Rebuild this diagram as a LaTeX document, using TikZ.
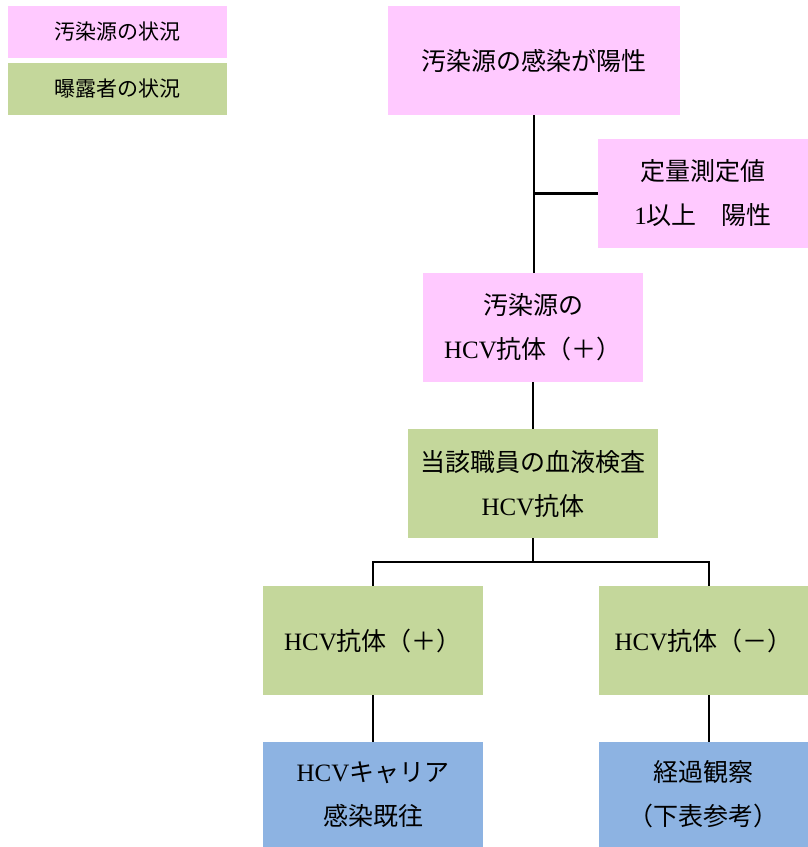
\documentclass[tikz,border=0pt]{standalone}
\usepackage{fontspec}
\setmainfont{Noto Sans CJK JP}
\newfontfamily\lat{Liberation Serif}
\newcommand\hcv{{\lat HCV}}
\definecolor{srcpink}{HTML}{FFC9FF}
\definecolor{expgreen}{HTML}{C4D79B}
\definecolor{resblue}{HTML}{8DB3E2}
\tikzset{
  box/.style={rectangle, inner sep=0pt, align=center, font=\fontsize{25}{44}\selectfont},
  legend/.style={rectangle, inner sep=0pt, align=center, minimum width=219pt, minimum height=52pt, font=\fontsize{21}{22}\selectfont},
  link/.style={draw=black, line width=2.2pt}
}
\begin{document}
\begin{tikzpicture}[x=1pt,y=-1pt]
\useasboundingbox (0,0) rectangle (808,847);
% legend
\node[legend, fill=srcpink] (lg1) at (117.5,32) {汚染源の状況};
\node[legend, fill=expgreen] (lg2) at (117.5,89) {曝露者の状況};
% source boxes
\node[box, fill=srcpink, minimum width=292pt, minimum height=109pt] (top) at (534,60.5) {汚染源の感染が陽性};
\node[box, fill=srcpink, minimum width=210pt, minimum height=109pt] (teiryo) at (703,193.5) {定量測定値\\{\lat 1}以上　陽性};
\node[box, fill=srcpink, minimum width=220pt, minimum height=109pt] (src) at (533,327.5) {汚染源の\\\hcv 抗体（＋）};
% exposed person
\node[box, fill=expgreen, minimum width=250pt, minimum height=109pt] (staff) at (533,483.5) {当該職員の血液検査\\\hcv 抗体};
\node[box, fill=expgreen, minimum width=220pt, minimum height=109pt] (pos) at (373,640.5) {\hcv 抗体（＋）};
\node[box, fill=expgreen, minimum width=209pt, minimum height=109pt] (neg) at (703.5,640.5) {\hcv 抗体（－）};
% outcomes
\node[box, fill=resblue, minimum width=220pt, minimum height=105pt] (carrier) at (373,794.5) {\hcv キャリア\\感染既往};
\node[box, fill=resblue, minimum width=209pt, minimum height=105pt] (watch) at (703.5,794.5) {経過観察\\（下表参考）};
% connectors
\draw[link] (top.south) -- (top.south |- src.north);
\draw[link] (top.south |- teiryo.west) -- (teiryo.west);
\draw[link] (src.south) -- (src.south |- staff.north);
\coordinate (split) at (533,562);
\draw[link] (staff.south) -- (split);
\draw[link] (split) -| (pos.north);
\draw[link] (split) -| ([xshift=5.5pt]neg.north);
\draw[link] (pos.south) -- (carrier.north);
\draw[link] ([xshift=5.5pt]neg.south) -- ([xshift=5.5pt]watch.north);
\end{tikzpicture}
\end{document}
